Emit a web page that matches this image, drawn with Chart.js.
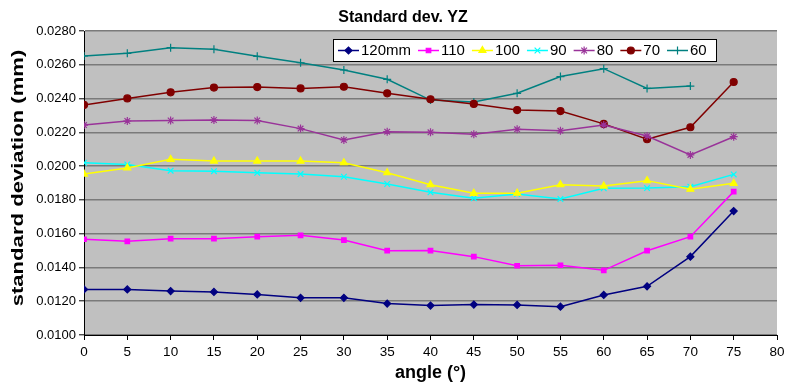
<!DOCTYPE html>
<html>
<head>
<meta charset="utf-8">
<script src="https://cdn.jsdelivr.net/npm/chart.js@4.4.1/dist/chart.umd.min.js"></script>
<style>
html,body{margin:0;padding:0;background:#fff;}
#wrap{width:785px;height:384px;position:relative;}
</style>
</head>
<body>
<div id="wrap"><canvas id="c" width="785" height="384"></canvas></div>
<script>
const angles = [0,5,10,15,20,25,30,35,40,45,50,55,60,65,70,75];
const seriesNames = ['120mm','110','100','90','80','70','60'];
const s120 = [0.0127,0.0127,0.0126,0.01255,0.0124,0.0122,0.0122,0.01186,0.01174,0.01180,0.01178,0.01168,0.01237,0.01288,0.01464,0.01734];
const s110 = [0.01567,0.01555,0.0157,0.0157,0.01582,0.0159,0.01562,0.01499,0.0150,0.01464,0.0141,0.01413,0.01383,0.01499,0.01582,0.01849];
const s100 = [0.01953,0.01989,0.0204,0.0203,0.0203,0.0203,0.0202,0.01961,0.0189,0.01839,0.0184,0.0189,0.01882,0.01914,0.01863,0.01898];
const s90  = [0.0202,0.0201,0.01973,0.0197,0.0196,0.01953,0.01937,0.01894,0.01845,0.0181,0.01835,0.01805,0.01869,0.0187,0.01878,0.01951];
const s80  = [0.02243,0.02267,0.0227,0.02273,0.0227,0.02222,0.02155,0.02204,0.0220,0.02188,0.02218,0.0221,0.02243,0.02178,0.02066,0.02174];
const s70  = [0.02362,0.02401,0.02437,0.02465,0.02468,0.0246,0.0247,0.02431,0.02396,0.02368,0.02332,0.02326,0.0225,0.02159,0.0223,0.02498];
const s60  = [0.02652,0.02668,0.02701,0.02692,0.0265,0.02612,0.02569,0.02514,0.02391,0.0238,0.02431,0.0253,0.02577,0.0246,0.02474,null];
const yTicks = [0.010,0.012,0.014,0.016,0.018,0.020,0.022,0.024,0.026,0.028];
const xTicks = [0,5,10,15,20,25,30,35,40,45,50,55,60,65,70,75,80];
const chartTitle = 'Standard dev. YZ';
const xTitle = 'angle (°)';
const yTitle = 'standard deviation (mm)';

const values = [s120,s110,s100,s90,s80,s70,s60];
const colors = ['#000080','#ff00ff','#ffff00','#00ffff','#993399','#800000','#008080'];
const pstyles = ['rectRot','rect','triangle','crossRot','star','circle','cross'];
const pradius = [3.5,3.2,4,4,4,3.5,4];

const FONT = '"Liberation Sans", Arial, sans-serif';

const datasets = values.map((v,i)=>({
  label: seriesNames[i],
  data: angles.map((a,j)=>({x:a,y:v[j]})),
  borderColor: colors[i],
  backgroundColor: colors[i],
  borderWidth: 1.5,
  pointStyle: pstyles[i],
  pointRadius: pradius[i],
  pointBorderWidth: 1.2,
  pointBorderColor: colors[i],
  pointBackgroundColor: colors[i],
  tension: 0,
  spanGaps: false
}));

const bgPlugin = {
  id:'bg',
  beforeDraw(chart){
    const {ctx, chartArea:a} = chart;
    ctx.save();
    ctx.fillStyle='#c0c0c0';
    ctx.fillRect(a.left,a.top,a.right-a.left,a.bottom-a.top);
    ctx.restore();
  }
};

const overlayPlugin = {
  id:'overlay',
  afterDraw(chart){
    const ctx = chart.ctx;
    const a = chart.chartArea;
    ctx.save();
    // title
    ctx.fillStyle='#000';
    ctx.font='bold 16px '+FONT;
    ctx.textAlign='center';
    ctx.textBaseline='middle';
    ctx.fillText(chartTitle,403,18);
    // y title (stretched along its length)
    ctx.save();
    ctx.translate(18,(a.top+a.bottom)/2-5);
    ctx.rotate(-Math.PI/2);
    ctx.scale(1.3,1);
    ctx.font='bold 17px '+FONT;
    ctx.fillText(yTitle,0,0);
    ctx.restore();
    // legend
    const L=333,T=39,R=716,B=61;
    ctx.fillStyle='#fff';
    ctx.fillRect(L,T,R-L,B-T);
    ctx.strokeStyle='#000';
    ctx.lineWidth=1;
    ctx.strokeRect(L+0.5,T+0.5,R-L,B-T);
    ctx.font='15px '+FONT;
    ctx.textAlign='left';
    let x=L+5;
    const cy=(T+B)/2+0.5;
    chart.data.datasets.forEach((ds,i)=>{
      ctx.strokeStyle=ds.borderColor;
      ctx.lineWidth=1.5;
      ctx.beginPath();ctx.moveTo(x,cy);ctx.lineTo(x+21,cy);ctx.stroke();
      ctx.fillStyle=ds.borderColor;
      ctx.lineWidth=1.2;
      Chart.helpers.drawPoint(ctx,{pointStyle:ds.pointStyle,radius:ds.pointRadius,borderWidth:1.2,rotation:0},x+10.5,cy);
      ctx.fillStyle='#000';
      ctx.fillText(ds.label,x+23,cy);
      x += 23 + ctx.measureText(ds.label).width + 7;
    });
    ctx.restore();
  }
};

new Chart(document.getElementById('c'),{
  type:'line',
  data:{datasets},
  options:{
    responsive:false,
    animation:false,
    layout:{padding:{top:31,right:0,left:0,bottom:0}},
    plugins:{legend:{display:false},tooltip:{enabled:false},title:{display:false}},
    scales:{
      x:{
        type:'linear',min:0,max:80,
        afterBuildTicks(s){s.ticks=xTicks.map(v=>({value:v}));},
        afterFit(s){s.height=49; s.paddingRight=8;},
        grid:{drawOnChartArea:false,drawTicks:true,tickLength:5,tickColor:'#000',color:'#000'},
        border:{color:'#000',width:1},
        ticks:{color:'#000',font:{family:FONT,size:13.5},padding:4,maxRotation:0,autoSkip:false},
        title:{display:true,text:xTitle,color:'#000',font:{family:FONT,size:18,weight:'bold'},padding:{top:1,bottom:0}}
      },
      y:{
        type:'linear',min:0.010,max:0.028,
        afterBuildTicks(s){s.ticks=yTicks.map(v=>({value:v}));},
        afterFit(s){s.width=84;},
        grid:{color:'#7a7a7a',lineWidth:1.6,tickLength:5,tickColor:'#000',tickWidth:1},
        border:{color:'#000',width:1},
        ticks:{color:'#000',font:{family:FONT,size:13},padding:3,callback:v=>v.toFixed(4)},
        title:{display:false}
      }
    }
  },
  plugins:[bgPlugin,overlayPlugin]
});
</script>
</body>
</html>
